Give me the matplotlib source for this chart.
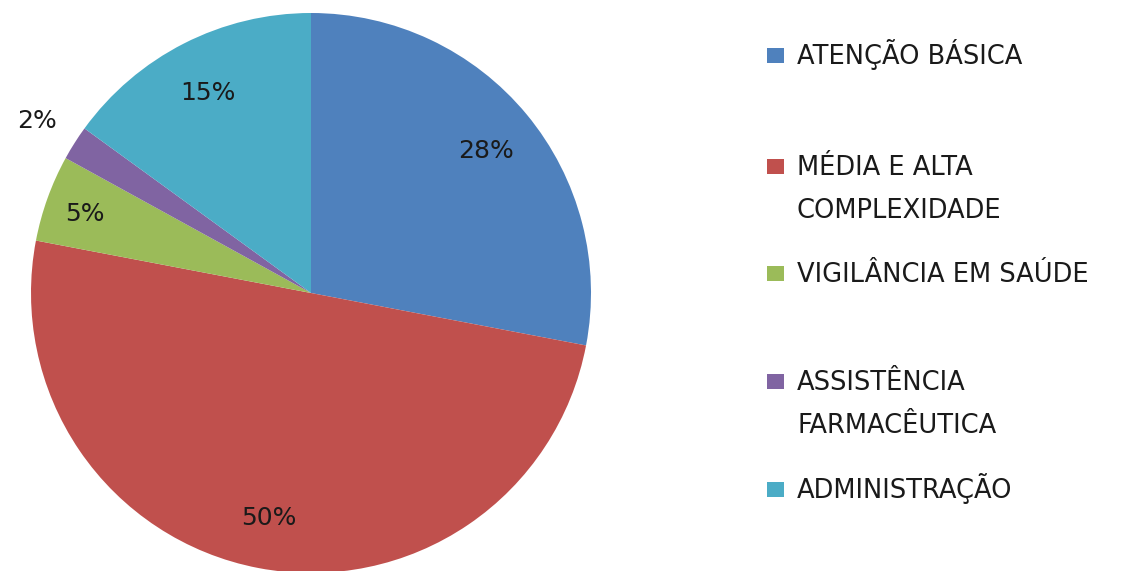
import numpy as np
import matplotlib.pyplot as plt
from matplotlib.patches import Rectangle

# data
categories = ['ATENÇÃO BÁSICA', 'MÉDIA E ALTA\nCOMPLEXIDADE', 'VIGILÂNCIA EM SAÚDE',
              'ASSISTÊNCIA\nFARMACÊUTICA', 'ADMINISTRAÇÃO']
values = [28, 50, 5, 2, 15]
colors = ['#4F81BD', '#C0504D', '#9BBB59', '#8064A2', '#4BACC6']

plt.rcParams['font.family'] = ['DejaVu Sans']

W, H = 1131, 571
fig = plt.figure(figsize=(W / 100, H / 100), dpi=100)

cx, cy, r = 311, 293, 280
ax = fig.add_axes([(cx - r) / W, 1 - (cy + r) / H, 2 * r / W, 2 * r / H])
wedges, _ = ax.pie(values, colors=colors, startangle=90, counterclock=False,
                   radius=1, wedgeprops=dict(linewidth=0))
ax.set_xlim(-1, 1)
ax.set_ylim(-1, 1)
ax.set_aspect('equal')
ax.axis('off')

# percentage labels
label_dist = [0.81, 0.81, 0.86, 1.16, 0.81]
total = sum(values)
for w, v, d in zip(wedges, values, label_dist):
    ang = np.deg2rad((w.theta1 + w.theta2) / 2)
    ax.text(d * np.cos(ang), d * np.sin(ang), f'{round(100 * v / total)}%',
            ha='center', va='center_baseline', fontsize=18, color='#1a1a1a')

# legend drawn by hand (square beside first line), baseline y in pixels
leg_base = [64, 175, 282, 390, 498]
pitch = 43
for cat, col, yb in zip(categories, colors, leg_base):
    fig.patches.append(Rectangle((767 / W, 1 - (yb - 1) / H), 17 / W, 15 / H,
                                 transform=fig.transFigure, facecolor=col,
                                 edgecolor='none'))
    for i, line in enumerate(cat.split('\n')):
        fig.text(797 / W, 1 - (yb + i * pitch) / H, line, ha='left',
                 va='baseline', fontsize=18.5, color='#1a1a1a')

fig.savefig('out.png', dpi=100)
